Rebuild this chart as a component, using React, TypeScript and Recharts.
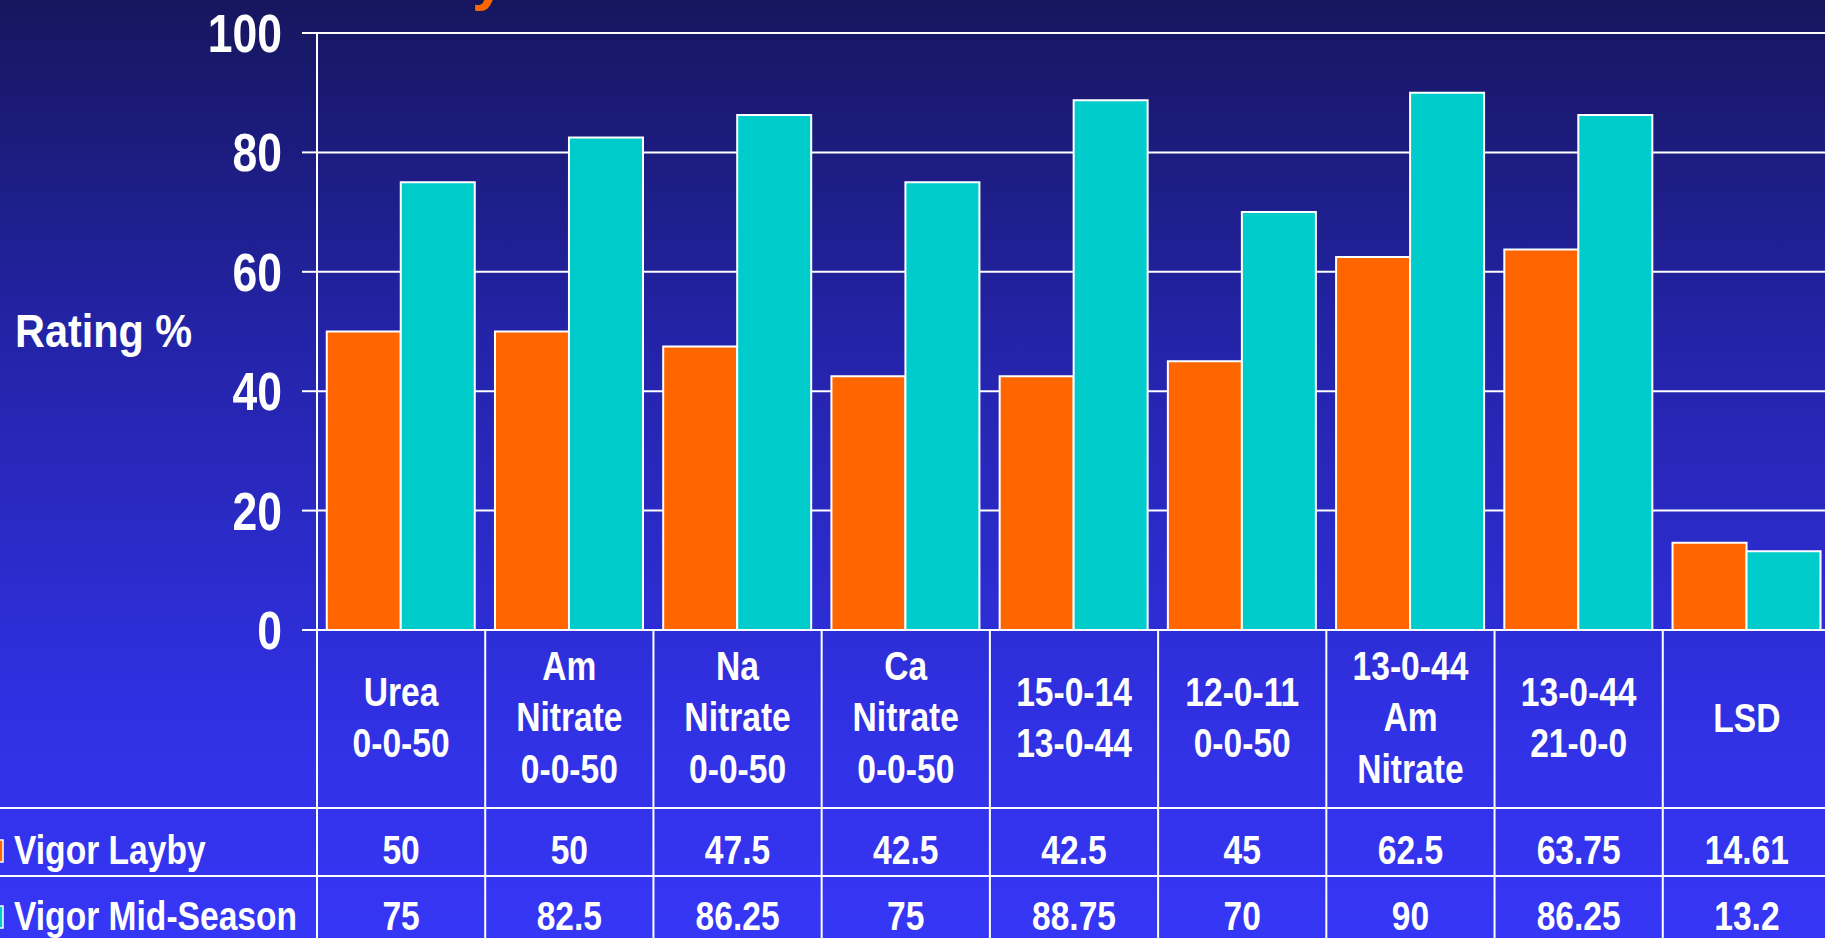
import { BarChart, Bar, XAxis, YAxis, CartesianGrid, Label } from 'recharts'

const categories = [
  'Urea\n0-0-50',
  'Am\nNitrate\n0-0-50',
  'Na\nNitrate\n0-0-50',
  'Ca\nNitrate\n0-0-50',
  '15-0-14\n13-0-44',
  '12-0-11\n0-0-50',
  '13-0-44\nAm\nNitrate',
  '13-0-44\n21-0-0',
  'LSD',
]
const vigorLayby = [50, 50, 47.5, 42.5, 42.5, 45, 62.5, 63.75, 14.61]
const vigorMidSeason = [75, 82.5, 86.25, 75, 88.75, 70, 90, 86.25, 13.2]
const seriesNames = ['Vigor Layby', 'Vigor Mid-Season']
const yTicks = [0, 20, 40, 60, 80, 100]

const ORANGE = '#ff6600'
const CYAN = '#00cccc'
const FONT = '"Liberation Sans", Arial, sans-serif'

const W = 1840
const H = 950
const MARGIN = { top: 33, right: 9, left: 0, bottom: 0 }
const Y_AXIS_W = 317
const X_AXIS_H = 320
const PLOT_BOTTOM = H - MARGIN.bottom - X_AXIS_H
const BAND = (W - MARGIN.left - Y_AXIS_W - MARGIN.right) / categories.length
const ROW1_TOP = 808
const ROW2_TOP = 876
const LINE_H = 52
const CELL_SIZE = 40

// the slide uses a condensed bold face, so squeeze Liberation Sans horizontally
function NarrowText({ x, y, size, squeeze = 0.84, anchor = 'start', fill = '#fff', lines }: any) {
  return (
    <text
      transform={`translate(${x} ${y}) scale(${squeeze} 1)`}
      textAnchor={anchor}
      fill={fill}
      fontSize={size}
      fontWeight={700}
      fontFamily={FONT}
    >
      {lines.map((l: string, j: number) => (
        <tspan key={j} x={0} y={j * LINE_H}>{l}</tspan>
      ))}
    </text>
  )
}

const data = categories.map((name, i) => ({
  name,
  layby: vigorLayby[i],
  mid: vigorMidSeason[i],
}))

// x axis tick draws one column of the data table under the plot
function TableTick(props: any) {
  const { x, index } = props
  const left = x - BAND / 2
  const lines = categories[index].split('\n')
  const first = 717 + 14.5 - ((lines.length - 1) * LINE_H) / 2
  const last = index === categories.length - 1
  return (
    <g>
      <line x1={left} y1={PLOT_BOTTOM} x2={left} y2={H} stroke="#fff" strokeWidth={2} />
      {last && <line x1={left + BAND} y1={PLOT_BOTTOM} x2={left + BAND} y2={H} stroke="#fff" strokeWidth={2} />}
      <line x1={index === 0 ? 0 : left} y1={ROW1_TOP} x2={left + BAND} y2={ROW1_TOP} stroke="#fff" strokeWidth={2} />
      <line x1={index === 0 ? 0 : left} y1={ROW2_TOP} x2={left + BAND} y2={ROW2_TOP} stroke="#fff" strokeWidth={2} />
      <NarrowText x={x} y={first} size={CELL_SIZE} anchor="middle" lines={lines} />
      <NarrowText x={x} y={864} size={CELL_SIZE} anchor="middle" lines={[String(vigorLayby[index])]} />
      <NarrowText x={x} y={930} size={CELL_SIZE} anchor="middle" lines={[String(vigorMidSeason[index])]} />
      {index === 0 && (
        <g>
          <rect x={-14} y={840} width={17} height={22} fill={ORANGE} stroke="#fff" strokeWidth={1.5} />
          <rect x={-14} y={906} width={17} height={22} fill={CYAN} stroke="#fff" strokeWidth={1.5} />
          <NarrowText x={14} y={864} size={CELL_SIZE} lines={[seriesNames[0]]} />
          <NarrowText x={14} y={930} size={CELL_SIZE} lines={[seriesNames[1]]} />
        </g>
      )}
    </g>
  )
}

function YTick(props: any) {
  const { x, y, payload } = props
  return <NarrowText x={x} y={y + 19} size={53} squeeze={0.84} anchor="end" lines={[String(payload.value)]} />
}

export default function App() {
  return (
    <div
      style={{
        position: 'absolute',
        left: 0,
        top: 0,
        width: 1825,
        height: 938,
        overflow: 'hidden',
        background: 'linear-gradient(to bottom, #16165e 0%, #2323a6 35%, #3030e2 75%, #3636f6 100%)',
      }}
    >
      <svg width={1825} height={40} style={{ position: 'absolute', left: 0, top: 0 }}>
        <text x={472} y={-1} fill={ORANGE} fontSize={60} fontWeight={700} fontFamily={FONT}>y</text>
      </svg>
      <BarChart width={W} height={H} data={data} margin={MARGIN} barGap={0} barCategoryGap="5.8%">
        <CartesianGrid vertical={false} stroke="#fff" strokeWidth={2} />
        <XAxis
          dataKey="name"
          height={X_AXIS_H}
          interval={0}
          tickLine={false}
          axisLine={{ stroke: '#fff', strokeWidth: 2 }}
          tick={(p: any) => <TableTick {...p} />}
        />
        <YAxis
          width={Y_AXIS_W}
          domain={[0, 100]}
          ticks={yTicks}
          interval={0}
          tickSize={15}
          tickMargin={20}
          axisLine={{ stroke: '#fff', strokeWidth: 2 }}
          tickLine={{ stroke: '#fff', strokeWidth: 2 }}
          tick={(p: any) => <YTick {...p} />}
        >
          <Label
            position="insideLeft"
            content={(p: any) => (
              <NarrowText
                x={p.viewBox.x + 15}
                y={p.viewBox.y + p.viewBox.height / 2 + 15}
                size={46}
                squeeze={0.9}
                lines={['Rating %']}
              />
            )}
          />
        </YAxis>
        <Bar dataKey="layby" name={seriesNames[0]} fill={ORANGE} stroke="#fff" strokeWidth={2} isAnimationActive={false} />
        <Bar dataKey="mid" name={seriesNames[1]} fill={CYAN} stroke="#fff" strokeWidth={2} isAnimationActive={false} />
      </BarChart>
    </div>
  )
}
